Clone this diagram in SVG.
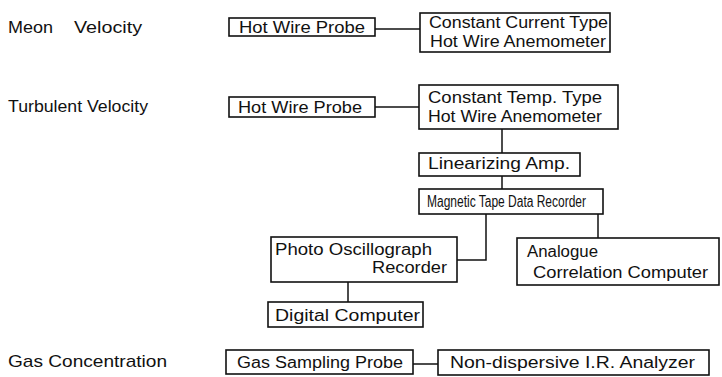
<svg xmlns="http://www.w3.org/2000/svg" width="722" height="377" viewBox="0 0 722 377">
<style>
  .box { fill: #fff; stroke: #111; stroke-width: 1.6; }
  .con { fill: none; stroke: #111; stroke-width: 1.5; }
  text { font-family: "Liberation Sans", Arial, sans-serif; font-size: 16px; fill: #111; }
  .big { font-size: 17px; }
</style>
<rect width="722" height="377" fill="#fff"/>
<g id="labels">
  <text x="8" y="33"><tspan textLength="45" lengthAdjust="spacingAndGlyphs">Meon</tspan><tspan x="74" textLength="68" lengthAdjust="spacingAndGlyphs">Velocity</tspan></text>
  <text x="8" y="112" textLength="140" lengthAdjust="spacingAndGlyphs">Turbulent Velocity</text>
  <text class="big" x="8" y="367" textLength="159" lengthAdjust="spacingAndGlyphs">Gas Concentration</text>
</g>
<g id="connectors">
  <path class="con" d="M375,29 H420"/>
  <path class="con" d="M375,107 H419"/>
  <path class="con" d="M502,129 V153"/>
  <path class="con" d="M502,176 V189"/>
  <path class="con" d="M486,214 V260 H457"/>
  <path class="con" d="M598,214 V238"/>
  <path class="con" d="M348,282 V302"/>
  <path class="con" d="M413,364 H438"/>
</g>
<g id="hwp1">
  <rect class="box" x="229" y="18" width="146" height="18"/>
  <text x="239" y="33" textLength="126" lengthAdjust="spacingAndGlyphs">Hot Wire Probe</text>
</g>
<g id="cc">
  <rect class="box" x="420" y="13" width="190" height="39"/>
  <text x="429" y="28" textLength="179" lengthAdjust="spacingAndGlyphs">Constant Current Type</text>
  <text x="430" y="47" textLength="176" lengthAdjust="spacingAndGlyphs">Hot Wire Anemometer</text>
</g>
<g id="hwp2">
  <rect class="box" x="229" y="97" width="146" height="20"/>
  <text x="238" y="113" textLength="124" lengthAdjust="spacingAndGlyphs">Hot Wire Probe</text>
</g>
<g id="ct">
  <rect class="box" x="419" y="85" width="199" height="44"/>
  <text x="428" y="103" textLength="174" lengthAdjust="spacingAndGlyphs">Constant Temp. Type</text>
  <text x="428" y="122" textLength="174" lengthAdjust="spacingAndGlyphs">Hot Wire Anemometer</text>
</g>
<g id="la">
  <rect class="box" x="419" y="153" width="161" height="23"/>
  <text x="428" y="169" textLength="142" lengthAdjust="spacingAndGlyphs">Linearizing Amp.</text>
</g>
<g id="mt">
  <rect class="box" x="419" y="189" width="184" height="25"/>
  <text transform="translate(427,207) scale(0.75,1)">Magnetic Tape Data Recorder</text>
</g>
<g id="po">
  <rect class="box" x="271" y="237" width="186" height="45"/>
  <text x="275" y="255" textLength="157" lengthAdjust="spacingAndGlyphs">Photo Oscillograph</text>
  <text x="372" y="273" textLength="75" lengthAdjust="spacingAndGlyphs">Recorder</text>
</g>
<g id="an">
  <rect class="box" x="517" y="238" width="202" height="47"/>
  <text x="527" y="257" textLength="71" lengthAdjust="spacingAndGlyphs">Analogue</text>
  <text x="533" y="278" textLength="175" lengthAdjust="spacingAndGlyphs">Correlation Computer</text>
</g>
<g id="dc">
  <rect class="box" x="268" y="302" width="155" height="25"/>
  <text x="275" y="321" textLength="145" lengthAdjust="spacingAndGlyphs">Digital Computer</text>
</g>
<g id="gs">
  <rect class="box" x="226" y="350" width="187" height="24"/>
  <text x="237" y="368" textLength="166" lengthAdjust="spacingAndGlyphs">Gas Sampling Probe</text>
</g>
<g id="nd">
  <rect class="box" x="438" y="350" width="271" height="25"/>
  <text x="450" y="368" textLength="245" lengthAdjust="spacingAndGlyphs">Non-dispersive I.R. Analyzer</text>
</g>
</svg>
